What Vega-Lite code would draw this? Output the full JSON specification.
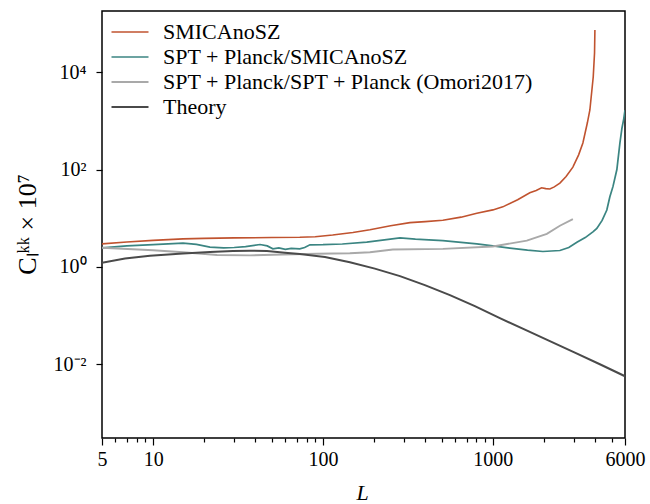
{
  "$schema": "https://vega.github.io/schema/vega-lite/v6.json",
  "autosize": {"type": "none"},
  "padding": {"left": 102, "top": 11, "right": 25, "bottom": 66},
  "width": 523,
  "height": 427,
  "background": "white",
  "config": {
    "view": {"stroke": "black", "strokeWidth": 1.5},
    "font": "Liberation Serif",
    "axis": {"labelFont": "Liberation Serif", "titleFont": "Liberation Serif", "labelColor": "black", "titleColor": "black", "tickColor": "black", "domain": false, "grid": false, "labelFontSize": 20, "titleFontSize": 22, "titleFontWeight": "normal", "tickWidth": 1.2},
    "legend": {"labelFont": "Liberation Serif", "labelFontSize": 22, "labelColor": "black", "labelLimit": 500}
  },
  "data": {
    "values": [
      {"s": "SMICAnoSZ", "L": 5, "v": 2.97},
      {"s": "SMICAnoSZ", "L": 7, "v": 3.25},
      {"s": "SMICAnoSZ", "L": 10, "v": 3.5},
      {"s": "SMICAnoSZ", "L": 15, "v": 3.76},
      {"s": "SMICAnoSZ", "L": 20, "v": 3.85},
      {"s": "SMICAnoSZ", "L": 30, "v": 3.95},
      {"s": "SMICAnoSZ", "L": 50, "v": 4.0},
      {"s": "SMICAnoSZ", "L": 73, "v": 4.05},
      {"s": "SMICAnoSZ", "L": 90, "v": 4.15},
      {"s": "SMICAnoSZ", "L": 114, "v": 4.5},
      {"s": "SMICAnoSZ", "L": 150, "v": 5.1},
      {"s": "SMICAnoSZ", "L": 189, "v": 5.8},
      {"s": "SMICAnoSZ", "L": 250, "v": 7.0},
      {"s": "SMICAnoSZ", "L": 325, "v": 8.1},
      {"s": "SMICAnoSZ", "L": 400, "v": 8.5},
      {"s": "SMICAnoSZ", "L": 508, "v": 9.1},
      {"s": "SMICAnoSZ", "L": 650, "v": 10.5},
      {"s": "SMICAnoSZ", "L": 805, "v": 12.6},
      {"s": "SMICAnoSZ", "L": 1000, "v": 14.8},
      {"s": "SMICAnoSZ", "L": 1145, "v": 17.1},
      {"s": "SMICAnoSZ", "L": 1400, "v": 24},
      {"s": "SMICAnoSZ", "L": 1651, "v": 33.3},
      {"s": "SMICAnoSZ", "L": 1800, "v": 37},
      {"s": "SMICAnoSZ", "L": 1936, "v": 42.2},
      {"s": "SMICAnoSZ", "L": 2050, "v": 40.5},
      {"s": "SMICAnoSZ", "L": 2166, "v": 39.7},
      {"s": "SMICAnoSZ", "L": 2300, "v": 44},
      {"s": "SMICAnoSZ", "L": 2482, "v": 52.7},
      {"s": "SMICAnoSZ", "L": 2700, "v": 72},
      {"s": "SMICAnoSZ", "L": 2960, "v": 112},
      {"s": "SMICAnoSZ", "L": 3200, "v": 200},
      {"s": "SMICAnoSZ", "L": 3390, "v": 350},
      {"s": "SMICAnoSZ", "L": 3600, "v": 900},
      {"s": "SMICAnoSZ", "L": 3727, "v": 1670},
      {"s": "SMICAnoSZ", "L": 3900, "v": 7950},
      {"s": "SMICAnoSZ", "L": 3970, "v": 24700},
      {"s": "SMICAnoSZ", "L": 3990, "v": 73600},
      {"s": "SPT + Planck/SMICAnoSZ", "L": 5, "v": 2.47},
      {"s": "SPT + Planck/SMICAnoSZ", "L": 7, "v": 2.7},
      {"s": "SPT + Planck/SMICAnoSZ", "L": 10, "v": 2.85},
      {"s": "SPT + Planck/SMICAnoSZ", "L": 15, "v": 3.06},
      {"s": "SPT + Planck/SMICAnoSZ", "L": 18, "v": 2.9},
      {"s": "SPT + Planck/SMICAnoSZ", "L": 21.6, "v": 2.54},
      {"s": "SPT + Planck/SMICAnoSZ", "L": 26, "v": 2.45},
      {"s": "SPT + Planck/SMICAnoSZ", "L": 30, "v": 2.5},
      {"s": "SPT + Planck/SMICAnoSZ", "L": 35, "v": 2.6},
      {"s": "SPT + Planck/SMICAnoSZ", "L": 42.6, "v": 2.88},
      {"s": "SPT + Planck/SMICAnoSZ", "L": 47, "v": 2.7},
      {"s": "SPT + Planck/SMICAnoSZ", "L": 50.7, "v": 2.35},
      {"s": "SPT + Planck/SMICAnoSZ", "L": 55, "v": 2.45},
      {"s": "SPT + Planck/SMICAnoSZ", "L": 60, "v": 2.3},
      {"s": "SPT + Planck/SMICAnoSZ", "L": 65, "v": 2.4},
      {"s": "SPT + Planck/SMICAnoSZ", "L": 73, "v": 2.35},
      {"s": "SPT + Planck/SMICAnoSZ", "L": 78, "v": 2.5},
      {"s": "SPT + Planck/SMICAnoSZ", "L": 83.8, "v": 2.84},
      {"s": "SPT + Planck/SMICAnoSZ", "L": 100, "v": 2.85},
      {"s": "SPT + Planck/SMICAnoSZ", "L": 130, "v": 2.95},
      {"s": "SPT + Planck/SMICAnoSZ", "L": 181, "v": 3.21},
      {"s": "SPT + Planck/SMICAnoSZ", "L": 230, "v": 3.6},
      {"s": "SPT + Planck/SMICAnoSZ", "L": 284, "v": 3.94},
      {"s": "SPT + Planck/SMICAnoSZ", "L": 350, "v": 3.7},
      {"s": "SPT + Planck/SMICAnoSZ", "L": 420, "v": 3.6},
      {"s": "SPT + Planck/SMICAnoSZ", "L": 508, "v": 3.47},
      {"s": "SPT + Planck/SMICAnoSZ", "L": 650, "v": 3.2},
      {"s": "SPT + Planck/SMICAnoSZ", "L": 805, "v": 2.97},
      {"s": "SPT + Planck/SMICAnoSZ", "L": 1000, "v": 2.7},
      {"s": "SPT + Planck/SMICAnoSZ", "L": 1259, "v": 2.42},
      {"s": "SPT + Planck/SMICAnoSZ", "L": 1600, "v": 2.2},
      {"s": "SPT + Planck/SMICAnoSZ", "L": 1971, "v": 2.07},
      {"s": "SPT + Planck/SMICAnoSZ", "L": 2482, "v": 2.17},
      {"s": "SPT + Planck/SMICAnoSZ", "L": 2800, "v": 2.5},
      {"s": "SPT + Planck/SMICAnoSZ", "L": 3126, "v": 3.21},
      {"s": "SPT + Planck/SMICAnoSZ", "L": 3500, "v": 4.0},
      {"s": "SPT + Planck/SMICAnoSZ", "L": 3900, "v": 5.3},
      {"s": "SPT + Planck/SMICAnoSZ", "L": 4095, "v": 6.17},
      {"s": "SPT + Planck/SMICAnoSZ", "L": 4400, "v": 9},
      {"s": "SPT + Planck/SMICAnoSZ", "L": 4690, "v": 14.7},
      {"s": "SPT + Planck/SMICAnoSZ", "L": 4887, "v": 27.5},
      {"s": "SPT + Planck/SMICAnoSZ", "L": 5100, "v": 45},
      {"s": "SPT + Planck/SMICAnoSZ", "L": 5374, "v": 100},
      {"s": "SPT + Planck/SMICAnoSZ", "L": 5600, "v": 350},
      {"s": "SPT + Planck/SMICAnoSZ", "L": 5754, "v": 700},
      {"s": "SPT + Planck/SMICAnoSZ", "L": 5900, "v": 1100},
      {"s": "SPT + Planck/SMICAnoSZ", "L": 6000, "v": 1650},
      {"s": "SPT + Planck/SPT + Planck (Omori2017)", "L": 5, "v": 2.47},
      {"s": "SPT + Planck/SPT + Planck (Omori2017)", "L": 10, "v": 2.2},
      {"s": "SPT + Planck/SPT + Planck (Omori2017)", "L": 15, "v": 2.0},
      {"s": "SPT + Planck/SPT + Planck (Omori2017)", "L": 23.8, "v": 1.75},
      {"s": "SPT + Planck/SPT + Planck (Omori2017)", "L": 37.2, "v": 1.72},
      {"s": "SPT + Planck/SPT + Planck (Omori2017)", "L": 58, "v": 1.8},
      {"s": "SPT + Planck/SPT + Planck (Omori2017)", "L": 92, "v": 1.86},
      {"s": "SPT + Planck/SPT + Planck (Omori2017)", "L": 144, "v": 1.91},
      {"s": "SPT + Planck/SPT + Planck (Omori2017)", "L": 189, "v": 2.0},
      {"s": "SPT + Planck/SPT + Planck (Omori2017)", "L": 258, "v": 2.27},
      {"s": "SPT + Planck/SPT + Planck (Omori2017)", "L": 508, "v": 2.35},
      {"s": "SPT + Planck/SPT + Planck (Omori2017)", "L": 1000, "v": 2.62},
      {"s": "SPT + Planck/SPT + Planck (Omori2017)", "L": 1585, "v": 3.47},
      {"s": "SPT + Planck/SPT + Planck (Omori2017)", "L": 2080, "v": 4.76},
      {"s": "SPT + Planck/SPT + Planck (Omori2017)", "L": 2482, "v": 7.0},
      {"s": "SPT + Planck/SPT + Planck (Omori2017)", "L": 2960, "v": 9.6},
      {"s": "Theory", "L": 5, "v": 1.22},
      {"s": "Theory", "L": 6.83, "v": 1.48},
      {"s": "Theory", "L": 9.58, "v": 1.7},
      {"s": "Theory", "L": 15, "v": 1.89},
      {"s": "Theory", "L": 21.6, "v": 2.01},
      {"s": "Theory", "L": 29.5, "v": 2.11},
      {"s": "Theory", "L": 37.2, "v": 2.15},
      {"s": "Theory", "L": 46.8, "v": 2.11},
      {"s": "Theory", "L": 59.7, "v": 1.96},
      {"s": "Theory", "L": 73.1, "v": 1.83},
      {"s": "Theory", "L": 102.7, "v": 1.59},
      {"s": "Theory", "L": 144, "v": 1.25},
      {"s": "Theory", "L": 202, "v": 0.92},
      {"s": "Theory", "L": 284, "v": 0.645},
      {"s": "Theory", "L": 398, "v": 0.421},
      {"s": "Theory", "L": 559, "v": 0.263},
      {"s": "Theory", "L": 784, "v": 0.156},
      {"s": "Theory", "L": 1100, "v": 0.0884},
      {"s": "Theory", "L": 1545, "v": 0.0513},
      {"s": "Theory", "L": 2167, "v": 0.0298},
      {"s": "Theory", "L": 3041, "v": 0.01727},
      {"s": "Theory", "L": 4268, "v": 0.01002},
      {"s": "Theory", "L": 6000, "v": 0.00568}
    ]
  },
  "mark": {"type": "line", "clip": true},
  "encoding": {
    "x": {
      "field": "L", "type": "quantitative",
      "scale": {"type": "log", "domain": [5, 6000], "nice": false},
      "axis": {
        "title": "L", "titleFontStyle": "italic", "titleY": 61, "titleX": 260, "titleBaseline": "alphabetic",
        "values": [5, 6, 7, 8, 9, 10, 20, 30, 40, 50, 60, 70, 80, 90, 100, 200, 300, 400, 500, 600, 700, 800, 900, 1000, 2000, 3000, 4000, 5000, 6000],
        "labelExpr": "indexof([5, 10, 100, 1000, 6000], datum.value) >= 0 ? format(datum.value, 'd') : ''",
        "labelOverlap": false, "labelFlush": false, "labelPadding": 4,
        "tickSize": {"condition": {"test": "indexof([5, 10, 100, 1000, 6000], datum.value) >= 0", "value": 7}, "value": 4}
      }
    },
    "y": {
      "field": "v", "type": "quantitative",
      "scale": {"type": "log", "domain": [0.000306, 180000], "nice": false},
      "axis": {
        "title": "Cₗᵏᵏ × 10⁷", "titleFontSize": 26, "titleX": -75, "titleY": 213, "titleAlign": "center", "titleBaseline": "middle", "titleAngle": -90,
        "values": [0.01, 1, 100, 10000],
        "labelExpr": "datum.value == 0.01 ? '10⁻²' : datum.value == 1 ? '10⁰' : datum.value == 100 ? '10²' : '10⁴'",
        "labelOverlap": false, "labelFlush": false, "tickSize": 6, "labelPadding": 10
      }
    },
    "color": {
      "field": "s", "type": "nominal",
      "scale": {"domain": ["SMICAnoSZ", "SPT + Planck/SMICAnoSZ", "SPT + Planck/SPT + Planck (Omori2017)", "Theory"], "range": ["#c0532f", "#3b8582", "#a9a9a9", "#4a4a4a"]},
      "legend": {"title": null, "orient": "none", "legendX": 17, "legendY": 10, "symbolType": "M-2.5,0H2.5", "symbolSize": 219, "labelOffset": 22, "rowPadding": 3, "padding": 0, "labelLimit": 500}
    },
    "strokeWidth": {
      "field": "s", "type": "nominal",
      "scale": {"domain": ["SMICAnoSZ", "SPT + Planck/SMICAnoSZ", "SPT + Planck/SPT + Planck (Omori2017)", "Theory"], "range": [1.6, 2, 1.6, 2.8]},
      "legend": {"title": null, "orient": "none", "legendX": 17, "legendY": 10, "symbolType": "M-2.5,0H2.5", "symbolSize": 219, "labelOffset": 22, "rowPadding": 3, "padding": 0, "labelLimit": 500}
    },
    "detail": {"field": "s"}
  }
}
